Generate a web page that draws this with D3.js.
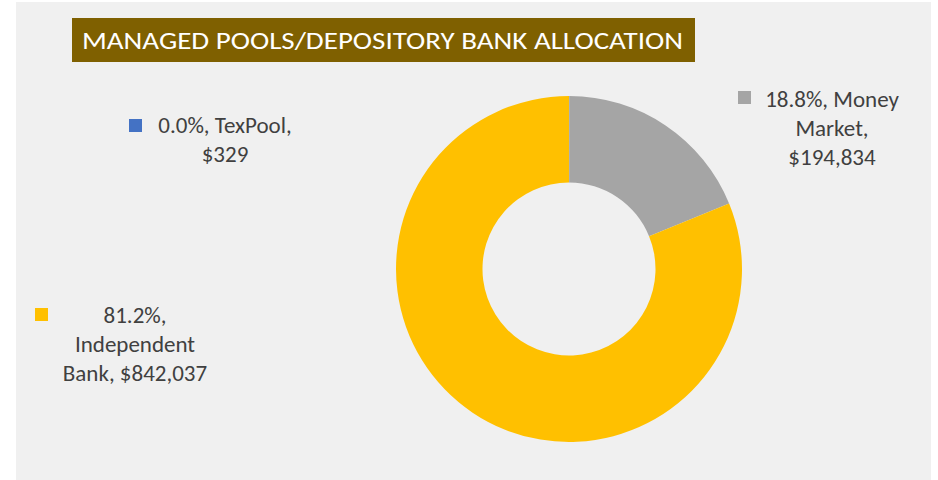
<!DOCTYPE html>
<html>
<head>
<meta charset="utf-8">
<script src="https://cdn.jsdelivr.net/npm/d3@7"></script>
<style>
  body { margin: 0; background: #ffffff; }
  svg { display: block; }
</style>
</head>
<body>
<div id="chart"></div>
<script>
// Managed pools / depository bank allocation
var categories = ["TexPool", "Money Market", "Independent Bank"];
var amounts = [329, 194834, 842037];
var colors = ["#4472c4", "#a5a5a5", "#ffc000"];
// words per line for each wrapped data label
var wrapCounts = [[2, 1], [2, 1, 1], [1, 1, 2]];

var title = "MANAGED POOLS/DEPOSITORY BANK ALLOCATION";

var width = 938, height = 480;
var center = { x: 569, y: 269 },
    outerR = 173,
    innerR = 86.5;

// legend placement (square + centred text block)
var legendPos = [
    { sx: 129, sy: 119, cx: 225, by: 133 },
    { sx: 738, sy: 91, cx: 832, by: 107 },
    { sx: 35, sy: 308, cx: 135, by: 323 }
];

var svg = d3.select("#chart").append("svg")
    .attr("width", width)
    .attr("height", height);

svg.append("rect")
    .attr("x", 16).attr("y", 2)
    .attr("width", 915).attr("height", 478)
    .attr("fill", "#f0f0f0");

// title block
svg.append("rect")
    .attr("x", 72).attr("y", 18)
    .attr("width", 623).attr("height", 44)
    .attr("fill", "#7f6000");

svg.append("text")
    .attr("x", 82).attr("y", 49)
    .attr("textLength", 601)
    .attr("lengthAdjust", "spacingAndGlyphs")
    .style("font-family", "Carlito, Calibri, Lato, sans-serif")
    .style("font-size", "24px")
    .attr("fill", "#ffffff")
    .text(title);

var data = categories.map(function(c, i) {
    return { name: c, value: amounts[i], color: colors[i] };
});
var total = d3.sum(amounts);

var pie = d3.pie()
    .sort(null)
    .value(function(d) { return d.value; });

var arc = d3.arc()
    .innerRadius(innerR)
    .outerRadius(outerR);

svg.append("g")
    .attr("transform", "translate(" + center.x + "," + center.y + ")")
    .selectAll("path")
    .data(pie(data))
    .enter().append("path")
    .attr("d", arc)
    .attr("fill", function(d) { return d.data.color; });

// data labels with legend keys
var fmtPct = d3.format(".1%"),
    fmtMoney = d3.format(",");

data.forEach(function(d, i) {
    var words = [fmtPct(d.value / total) + ",", ...d.name.split(" ")];
    words[words.length - 1] += ",";
    words.push("$" + fmtMoney(d.value));

    var lines = [], k = 0;
    wrapCounts[i].forEach(function(n) {
        lines.push(words.slice(k, k + n).join(" "));
        k += n;
    });

    var p = legendPos[i];
    svg.append("rect")
        .attr("x", p.sx).attr("y", p.sy)
        .attr("width", 13).attr("height", 13)
        .attr("fill", d.color);

    var t = svg.append("text")
        .attr("text-anchor", "middle")
        .style("font-family", "Carlito, Calibri, Lato, sans-serif")
        .style("font-size", "23px")
        .attr("fill", "#404040");

    lines.forEach(function(line, j) {
        t.append("tspan")
            .attr("x", p.cx)
            .attr("y", p.by + j * 29)
            .text(line);
    });
});
</script>
</body>
</html>
